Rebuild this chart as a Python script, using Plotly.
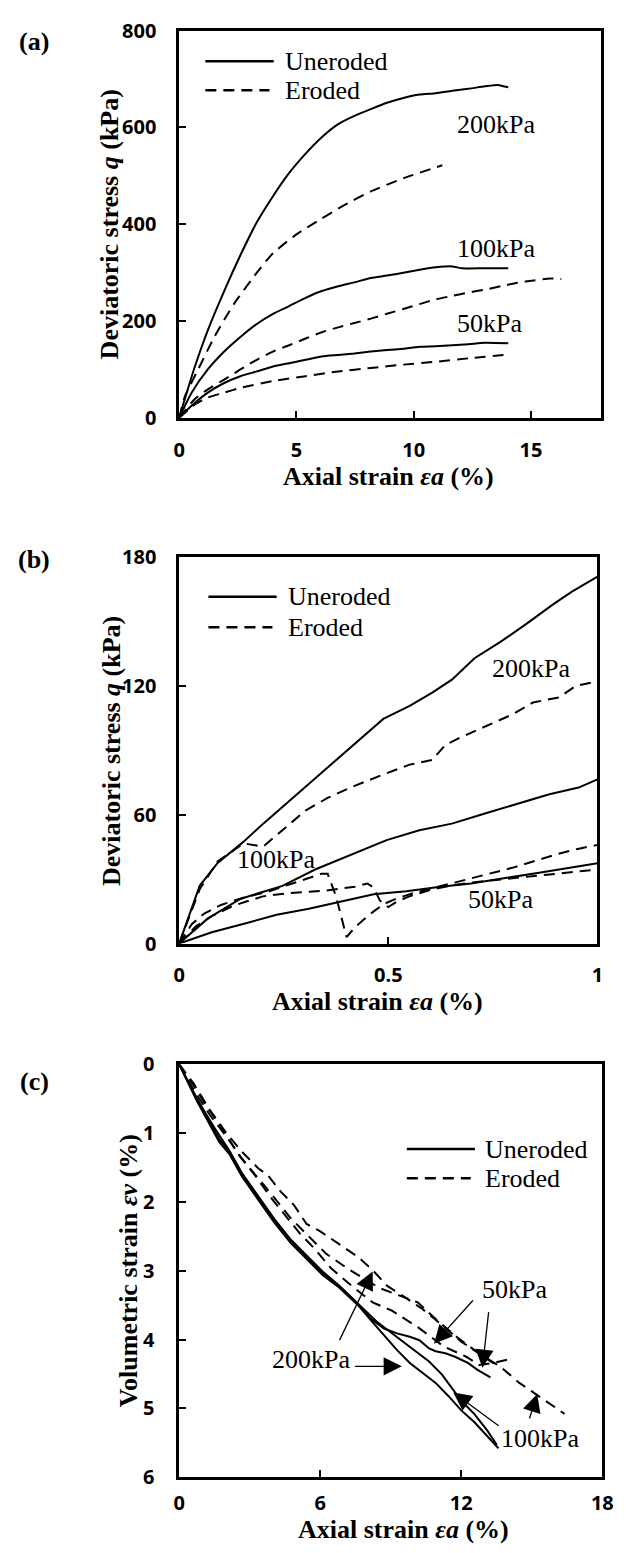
import plotly.graph_objects as go

W, H = 626, 1553

# ---------------- Panel (a): deviatoric stress vs axial strain (0-18 %) ----------------
a_x_u200 = [0, 0.67, 1.22, 1.92, 2.61, 3.31, 4.0, 4.69, 5.39, 6.08, 6.78, 7.47, 8.17, 8.86, 9.56, 10.25, 10.94, 11.64, 12.33, 13.03, 13.58, 14.03]
a_q_u200 = [0, 106, 181, 262, 336, 404, 458, 506, 546, 580, 607, 624, 638, 651, 661, 668, 671, 676, 680, 685, 688, 683]
a_x_e200 = [0, 0.25, 0.81, 1.5, 2.33, 3.31, 4.0, 4.97, 6.08, 7.06, 8.17, 9.56, 11.22]
a_q_e200 = [0, 45, 100, 167, 235, 300, 340, 378, 412, 440, 468, 495, 522]
a_x_u100 = [0, 0.53, 1.22, 1.92, 2.61, 3.31, 4.0, 4.69, 5.39, 6.08, 6.78, 7.47, 8.17, 8.86, 9.56, 10.25, 10.94, 11.64, 12.06, 13.03, 14.03]
a_q_u100 = [0, 52, 100, 137, 167, 194, 215, 231, 248, 262, 272, 280, 289, 294, 300, 306, 311, 313, 309, 309, 309]
a_x_e100 = [0, 0.67, 1.22, 1.92, 2.61, 3.31, 4.0, 4.69, 5.39, 6.08, 6.78, 7.47, 8.17, 8.86, 9.56, 10.25, 10.94, 11.64, 12.33, 13.03, 13.72, 14.42, 15.11, 15.81, 16.29]
a_q_e100 = [0, 39, 59, 79, 100, 120, 137, 150, 164, 177, 187, 196, 205, 215, 225, 235, 245, 252, 259, 265, 272, 279, 284, 288, 287]
a_x_u50 = [0, 0.53, 1.22, 1.92, 2.61, 3.31, 4.0, 4.69, 5.39, 6.08, 6.78, 7.47, 8.17, 8.86, 9.56, 10.25, 10.94, 11.64, 12.33, 13.03, 14.03]
a_q_u50 = [0, 25, 52, 72, 86, 96, 106, 113, 120, 127, 130, 133, 137, 140, 143, 147, 148, 150, 152, 155, 154]
a_x_e50 = [0, 0.67, 1.22, 1.92, 2.61, 4.0, 5.39, 6.78, 8.17, 9.56, 10.94, 12.33, 14.03]
a_q_e50 = [0, 28, 42, 52, 62, 76, 86, 96, 103, 110, 116, 123, 131]

# ---------------- Panel (b): deviatoric stress vs axial strain (0-1 %) ----------------
b_x_u200 = [0, 0.049, 0.092, 0.154, 0.201, 0.255, 0.309, 0.372, 0.434, 0.488, 0.551, 0.605, 0.652, 0.706, 0.768, 0.830, 0.893, 0.939, 1.0]
b_q_u200 = [0, 26.9, 37.6, 47.5, 55.9, 65, 74.2, 84.9, 95.6, 104.7, 110.8, 117, 123, 133, 140.6, 149, 158, 164, 171]
b_x_e200 = [0, 0.049, 0.092, 0.154, 0.201, 0.247, 0.302, 0.356, 0.418, 0.488, 0.551, 0.605, 0.636, 0.675, 0.737, 0.799, 0.846, 0.908, 0.947, 1.0]
b_q_e200 = [0, 25.3, 38.3, 46.7, 45.2, 52.8, 62, 68, 73.4, 78.8, 83.4, 85.6, 92.5, 96.3, 101.7, 107, 112.4, 114.7, 120, 122.3]
b_x_u100 = [0, 0.068, 0.146, 0.247, 0.325, 0.403, 0.496, 0.574, 0.652, 0.729, 0.807, 0.885, 0.955, 1.0]
b_q_u100 = [0, 11.6, 20.8, 26.9, 34.5, 40.6, 48.2, 52.8, 55.9, 60.5, 65, 69.6, 72.7, 76.5]
b_x_e100 = [0, 0.03, 0.06, 0.1, 0.155, 0.21, 0.255, 0.3, 0.34, 0.355, 0.36, 0.375, 0.40, 0.42, 0.44, 0.465, 0.49, 0.52, 0.56, 0.6, 0.65, 0.7, 0.75, 0.8, 0.85, 0.9, 0.95, 1.0]
b_q_e100 = [0, 9, 14, 18, 21.5, 24, 27, 30, 32.5, 32.5, 30, 22, 3, 7.5, 11, 15, 18.5, 21, 23.5, 25.5, 28, 30.5, 33, 35.5, 38.5, 41.5, 44, 46]
b_x_u50 = [0, 0.078, 0.155, 0.233, 0.31, 0.38, 0.465, 0.543, 0.62, 0.698, 0.775, 0.853, 1.0]
b_q_u50 = [0, 5.3, 9.2, 13.4, 16.2, 19.2, 23, 24.4, 26.4, 28, 30.5, 32.8, 37.4]
b_x_e50 = [0, 0.04, 0.08, 0.13, 0.2, 0.26, 0.35, 0.42, 0.45, 0.465, 0.48, 0.5, 0.52, 0.55, 0.6, 0.65, 0.7, 0.8, 0.9, 1.0]
b_q_e50 = [0, 8, 13, 17.7, 22, 23.5, 24.7, 26.5, 28, 26, 20, 17, 19.5, 22, 25, 27, 28.5, 30.5, 32.5, 34.5]

# ---------------- Panel (c): volumetric strain vs axial strain ----------------
c_x_u200 = [0, 0.75, 1.71, 2.13, 2.67, 3.36, 4.05, 4.73, 5.42, 6.10, 6.79, 7.61, 8.16, 8.71, 9.26, 9.81, 10.36, 10.91, 11.45, 12.0, 12.55, 13.1, 13.58]
c_e_u200 = [0, 0.53, 1.13, 1.30, 1.63, 1.97, 2.30, 2.59, 2.83, 3.06, 3.24, 3.50, 3.72, 3.94, 4.15, 4.34, 4.48, 4.63, 4.82, 5.03, 5.20, 5.41, 5.58]
c_x_u100 = [0, 0.75, 1.50, 2.13, 2.67, 3.36, 4.05, 4.73, 5.42, 6.10, 6.79, 7.61, 8.44, 8.98, 9.53, 10.08, 10.63, 11.18, 11.59, 12.0, 12.55, 13.1, 13.51]
c_e_u100 = [0, 0.50, 0.92, 1.25, 1.58, 1.92, 2.25, 2.54, 2.78, 3.01, 3.21, 3.48, 3.75, 3.89, 4.03, 4.17, 4.32, 4.51, 4.70, 4.89, 5.08, 5.32, 5.53]
c_x_u50 = [0, 0.75, 1.71, 2.13, 2.67, 3.36, 4.05, 4.73, 5.42, 6.10, 6.79, 7.61, 8.16, 8.71, 9.26, 9.81, 10.22, 10.63, 10.91, 11.32, 11.73, 12.28, 12.69, 13.24]
c_e_u50 = [0, 0.49, 1.09, 1.26, 1.60, 1.93, 2.26, 2.55, 2.80, 3.03, 3.22, 3.49, 3.70, 3.84, 3.91, 3.96, 4.01, 4.13, 4.17, 4.20, 4.25, 4.34, 4.44, 4.55]
c_x_e100 = [0, 0.62, 1.30, 1.99, 2.67, 3.36, 3.77, 4.32, 4.87, 5.42, 5.97, 6.79, 7.61, 8.23, 8.85, 9.53, 10.36, 11.18, 12.0, 12.83, 13.65, 14.47, 15.16, 15.71, 16.39]
c_e_e100 = [0, 0.28, 0.66, 0.99, 1.27, 1.51, 1.61, 1.85, 2.04, 2.32, 2.42, 2.61, 2.80, 2.99, 3.22, 3.37, 3.56, 3.79, 4.03, 4.22, 4.39, 4.63, 4.79, 4.91, 5.08]
c_x_e200 = [0, 0.62, 1.30, 1.99, 2.67, 3.36, 4.05, 4.73, 5.35, 6.24, 7.13, 8.51, 10.15, 10.97, 11.87, 12.83, 13.65]
c_e_e200 = [0, 0.37, 0.73, 1.04, 1.37, 1.65, 1.94, 2.23, 2.44, 2.75, 2.96, 3.25, 3.46, 3.72, 3.98, 4.22, 4.41]
c_x_e50 = [0, 0.48, 1.17, 1.85, 2.54, 3.22, 3.91, 4.60, 5.14, 5.76, 6.45, 7.34, 8.23, 9.05, 10.15, 11.25, 12.21, 12.76, 13.37, 13.99]
c_e_e50 = [0, 0.23, 0.61, 0.94, 1.32, 1.61, 1.94, 2.23, 2.46, 2.68, 2.96, 3.22, 3.46, 3.58, 3.82, 4.10, 4.25, 4.37, 4.34, 4.29]

# tick values / labels
a_xticks = [0, 5, 10, 15]
a_yticks = [0, 200, 400, 600, 800]
b_xticks = [0, 0.5, 1]
b_xlabels = ["0", "0.5", "1"]
b_yticks = [0, 60, 120, 180]
c_xticks = [0, 6, 12, 18]
c_yticks = [0, 1, 2, 3, 4, 5, 6]

legend_names = ["Uneroded", "Eroded"]

SERIF = "Liberation Serif"
SANS = "Open Sans"
LW = 2.0
DASH = "11px,7px"

fig = go.Figure()


def add_line(x, y, xa, ya, dashed, spline=False):
    fig.add_trace(go.Scatter(
        x=x, y=y, xaxis=xa, yaxis=ya, mode="lines", showlegend=False, hoverinfo="skip",
        line=dict(color="black", width=LW, dash=DASH if dashed else "solid",
                  shape="spline" if spline else "linear", smoothing=0.6 if spline else None),
    ))


# panel a
for x, y, d in [(a_x_u200, a_q_u200, False), (a_x_e200, a_q_e200, True),
                (a_x_u100, a_q_u100, False), (a_x_e100, a_q_e100, True),
                (a_x_u50, a_q_u50, False), (a_x_e50, a_q_e50, True)]:
    add_line(x, y, "x", "y", d, spline=True)
# panel b
for x, y, d in [(b_x_u200, b_q_u200, False), (b_x_e200, b_q_e200, True),
                (b_x_u100, b_q_u100, False), (b_x_e100, b_q_e100, True),
                (b_x_u50, b_q_u50, False), (b_x_e50, b_q_e50, True)]:
    add_line(x, y, "x2", "y2", d)
# panel c
for x, y, d in [(c_x_u200, c_e_u200, False), (c_x_u100, c_e_u100, False),
                (c_x_u50, c_e_u50, False), (c_x_e100, c_e_e100, True),
                (c_x_e200, c_e_e200, True), (c_x_e50, c_e_e50, True)]:
    add_line(x, y, "x3", "y3", d)


def px_x(X):
    return X / W


def px_y(Y):
    return 1 - Y / H


tickfont = dict(family=SANS, size=20, color="black", weight="bold")
axis_common = dict(showline=True, linecolor="black", linewidth=2.5, mirror=True,
                   ticks="inside", ticklen=7, tickwidth=1.5, tickcolor="black",
                   showgrid=False, zeroline=False, tickfont=tickfont, fixedrange=True)

# panel pixel boxes (left, right, top, bottom)
PA = (178, 612, 17, 411)
PB = (178, 608, 553, 946)
PC = (178, 613, 1069, 1489)

fig.update_layout(
    width=W, height=H, margin=dict(l=0, r=0, t=0, b=0),
    paper_bgcolor="white", plot_bgcolor="white", showlegend=False,
    xaxis=dict(domain=[px_x(PA[0]), px_x(PA[1])], anchor="y", range=[0, 18],
               tickvals=a_xticks, ticklabelstandoff=12, **axis_common),
    yaxis=dict(domain=[px_y(PA[3]), px_y(PA[2])], anchor="x", range=[0, 800],
               tickvals=a_yticks, ticklabelstandoff=16, **axis_common),
    xaxis2=dict(domain=[px_x(PB[0]), px_x(PB[1])], anchor="y2", range=[0, 1],
                tickvals=b_xticks, ticktext=b_xlabels, ticklabelstandoff=12, **axis_common),
    yaxis2=dict(domain=[px_y(PB[3]), px_y(PB[2])], anchor="x2", range=[0, 180],
                tickvals=b_yticks, ticklabelstandoff=16, **axis_common),
    xaxis3=dict(domain=[px_x(PC[0]), px_x(PC[1])], anchor="y3", range=[0, 18],
                tickvals=c_xticks, ticklabelstandoff=6, **axis_common),
    yaxis3=dict(domain=[px_y(PC[3]), px_y(PC[2])], anchor="x3", range=[6, 0],
                tickvals=c_yticks, ticklabelstandoff=18, **axis_common),
)

ann = []
shapes = []

xtitle = "<b>Axial strain <i>εa</i> (%)</b>"
titles = [
    # (text, X, Y, angle)
    ("<b>(a)</b>", 29, 28, 0),
    ("<b>(b)</b>", 29, 555, 0),
    ("<b>(c)</b>", 29, 1086, 0),
    (xtitle, 393, 471, 0),
    (xtitle, 382, 1005, 0),
    (xtitle, 409, 1542, 0),
    ("<b>Deviatoric stress <i>q</i> (kPa)</b>", 106, 214, -90),
    ("<b>Deviatoric stress <i>q</i> (kPa)</b>", 109, 750, -90),
    ("<b>Volumetric strain <i>εv</i> (%)</b>", 126, 1279, -90),
]
for t, X, Y, ang in titles:
    ann.append(dict(text=t, x=px_x(X), y=px_y(Y), xref="paper", yref="paper",
                    xanchor="center", yanchor="middle", showarrow=False, textangle=ang,
                    font=dict(family=SERIF, size=26, color="black")))

# legends (drawn in axis-domain coordinates)
legend_pos = [
    # xaxis, yaxis, (line x0, x1, text x), (y solid, y dashed)
    ("x", "y", (0.062, 0.224, 0.246), (0.921, 0.846)),
    ("x2", "y2", (0.070, 0.233, 0.256), (0.898, 0.819)),
    ("x3", "y3", (0.538, 0.699, 0.717), (0.795, 0.724)),
]
for xa, ya, (lx0, lx1, tx), (ys, yd) in legend_pos:
    for name, yy, dash in [(legend_names[0], ys, "solid"), (legend_names[1], yd, DASH)]:
        shapes.append(dict(type="line", xref=f"{xa} domain", yref=f"{ya} domain",
                           x0=lx0, x1=lx1 if dash == "solid" else lx1 - 0.01, y0=yy, y1=yy,
                           line=dict(color="black", width=LW + 0.5, dash=dash)))
        ann.append(dict(text=name, xref=f"{xa} domain", yref=f"{ya} domain", x=tx, y=yy,
                        xanchor="left", yanchor="middle", showarrow=False,
                        font=dict(family=SERIF, size=26, color="black")))

# pressure labels
labels = [
    ("200kPa", "x", "y", 13.5, 607), ("100kPa", "x", "y", 13.5, 350), ("50kPa", "x", "y", 13.25, 196),
    ("200kPa", "x2", "y2", 0.842, 128.4), ("100kPa", "x2", "y2", 0.232, 39.1), ("50kPa", "x2", "y2", 0.768, 20.5),
    ("50kPa", "x3", "y3", 14.27, 3.27), ("200kPa", "x3", "y3", 5.62, 4.29), ("100kPa", "x3", "y3", 15.36, 5.44),
]
for t, xa, ya, x, y in labels:
    ann.append(dict(text=t, xref=xa, yref=ya, x=x, y=y, xanchor="center", yanchor="middle",
                    showarrow=False, font=dict(family=SERIF, size=26, color="black")))

# arrows in panel c: (tail x, tail y, head x, head y)
arrows = [
    (12.55, 3.41, 10.84, 4.06),
    (13.17, 3.58, 12.90, 4.41),
    (6.79, 4.03, 8.23, 3.01),
    (7.41, 4.39, 9.47, 4.39),
    (13.65, 5.27, 11.66, 4.77),
    (14.88, 5.17, 15.23, 4.79),
]
for tx, ty, hx, hy in arrows:
    ann.append(dict(text="", xref="x3", yref="y3", axref="x3", ayref="y3",
                    x=hx, y=hy, ax=tx, ay=ty, showarrow=True, arrowhead=2,
                    arrowsize=2.8, arrowwidth=1.3, arrowcolor="black", standoff=0, startstandoff=0))

fig.update_layout(annotations=ann, shapes=shapes)
fig.write_html("out.html")
